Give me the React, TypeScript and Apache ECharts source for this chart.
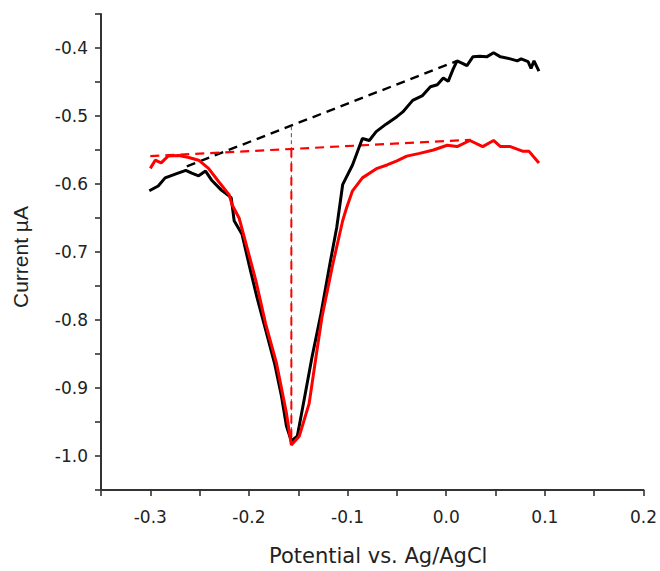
import React, { useEffect, useRef } from "react";
import * as echarts from "echarts";

// Black voltammogram (potential V, current µA)
const blackCurve: [number, number][] = [
  [-0.301, -0.61], [-0.292, -0.603], [-0.285, -0.591], [-0.274, -0.585], [-0.264, -0.58],
  [-0.258, -0.584], [-0.251, -0.588], [-0.244, -0.581], [-0.238, -0.594], [-0.228, -0.609],
  [-0.218, -0.62], [-0.215, -0.654], [-0.207, -0.674], [-0.2, -0.718], [-0.192, -0.766],
  [-0.183, -0.815], [-0.174, -0.864], [-0.167, -0.912], [-0.162, -0.956], [-0.157, -0.978],
  [-0.151, -0.971], [-0.144, -0.917], [-0.136, -0.854], [-0.127, -0.791], [-0.118, -0.718],
  [-0.111, -0.664], [-0.105, -0.601], [-0.095, -0.572], [-0.085, -0.533], [-0.078, -0.536],
  [-0.071, -0.523], [-0.061, -0.512], [-0.05, -0.501], [-0.044, -0.494], [-0.034, -0.477],
  [-0.024, -0.47], [-0.016, -0.457], [-0.009, -0.454], [-0.003, -0.444], [0.002, -0.449],
  [0.007, -0.431], [0.011, -0.419], [0.017, -0.423], [0.021, -0.426], [0.027, -0.413],
  [0.034, -0.412], [0.041, -0.413], [0.048, -0.407], [0.055, -0.413], [0.065, -0.416],
  [0.072, -0.419], [0.076, -0.416], [0.083, -0.42], [0.086, -0.43], [0.089, -0.419],
  [0.094, -0.434],
];

// Red voltammogram
const redCurve: [number, number][] = [
  [-0.3, -0.577], [-0.295, -0.565], [-0.289, -0.569], [-0.282, -0.559], [-0.271, -0.558],
  [-0.261, -0.561], [-0.251, -0.565], [-0.241, -0.577], [-0.231, -0.596], [-0.22, -0.616],
  [-0.217, -0.631], [-0.21, -0.65], [-0.2, -0.704], [-0.193, -0.742], [-0.183, -0.806],
  [-0.172, -0.864], [-0.162, -0.937], [-0.157, -0.984], [-0.149, -0.971], [-0.139, -0.923],
  [-0.132, -0.854], [-0.126, -0.796], [-0.115, -0.718], [-0.105, -0.654], [-0.101, -0.635],
  [-0.095, -0.61], [-0.085, -0.591], [-0.07, -0.577], [-0.06, -0.572], [-0.05, -0.566],
  [-0.04, -0.559], [-0.027, -0.555], [-0.013, -0.55], [0.001, -0.543], [0.011, -0.545],
  [0.024, -0.536], [0.037, -0.545], [0.048, -0.536], [0.055, -0.545], [0.065, -0.545],
  [0.078, -0.552], [0.084, -0.552], [0.094, -0.569],
];

// Baselines and peak markers
const blackBaseline: [number, number][] = [[-0.263, -0.574], [0.011, -0.419]];
const redBaseline: [number, number][] = [[-0.3, -0.559], [0.025, -0.535]];
const blackPeakLine: [number, number][] = [[-0.157, -0.515], [-0.157, -0.98]];
const redPeakLine: [number, number][] = [[-0.157, -0.549], [-0.157, -0.982]];

const xAxisName = "Potential vs. Ag/AgCl";
const yAxisName = "Current \u00b5A";

const WIDE_FONT = "'DejaVu Sans', sans-serif";
const NARROW_FONT = "'Liberation Sans', Arial, sans-serif";
const TEXT_COLOR = "#222";

const isTenth = (v: number) => Math.abs(Math.round(v * 10) - v * 10) < 1e-6;

export default function App() {
  const ref = useRef<HTMLDivElement>(null);
  useEffect(() => {
    if (!ref.current) return;
    const chart = echarts.init(ref.current, undefined, { renderer: "svg" });
    const axisCommon = {
      axisLine: { show: true, onZero: false, lineStyle: { color: "#333", width: 2 } },
      axisTick: { show: true, inside: false, length: 6, lineStyle: { color: "#333", width: 1.6 } },
      splitLine: { show: false },
    };
    chart.setOption({
      animation: false,
      backgroundColor: "#fff",
      grid: { left: 101, right: 16, top: 14, bottom: 77, containLabel: false },
      xAxis: {
        type: "value",
        min: -0.35,
        max: 0.2,
        interval: 0.05,
        name: xAxisName,
        nameLocation: "middle",
        nameGap: 55,
        nameTextStyle: {
          fontFamily: WIDE_FONT,
          fontSize: 21,
          color: TEXT_COLOR,
          padding: [0, 0, 0, 12],
        },
        ...axisCommon,
        axisLabel: {
          margin: 18,
          fontFamily: WIDE_FONT,
          fontSize: 17,
          color: TEXT_COLOR,
          formatter: (v: number) => (isTenth(v) ? v.toFixed(1) : ""),
        },
      },
      yAxis: {
        type: "value",
        min: -1.05,
        max: -0.35,
        interval: 0.05,
        name: yAxisName,
        nameLocation: "middle",
        nameGap: 70,
        nameTextStyle: {
          fontFamily: NARROW_FONT,
          fontSize: 21,
          color: TEXT_COLOR,
          padding: [0, 10, 0, 0],
        },
        ...axisCommon,
        axisLabel: {
          margin: 13,
          fontFamily: WIDE_FONT,
          fontSize: 17,
          color: TEXT_COLOR,
          formatter: (v: number) => (isTenth(v) ? v.toFixed(1) : ""),
        },
      },
      series: [
        {
          type: "line",
          data: blackBaseline,
          symbol: "none",
          lineStyle: { color: "#000", width: 2.4, type: [9, 6] },
          z: 2,
        },
        {
          type: "line",
          data: redBaseline,
          symbol: "none",
          lineStyle: { color: "#ff0000", width: 2.2, type: [9, 6] },
          z: 2,
        },
        {
          type: "line",
          data: blackPeakLine,
          symbol: "none",
          lineStyle: { color: "#555", width: 1, type: [4, 3] },
          z: 2,
        },
        {
          type: "line",
          data: redPeakLine,
          symbol: "none",
          lineStyle: { color: "#ff0000", width: 2, type: [8, 6] },
          z: 2,
        },
        {
          type: "line",
          data: blackCurve,
          symbol: "none",
          lineStyle: { color: "#000", width: 3 },
          z: 3,
        },
        {
          type: "line",
          data: redCurve,
          symbol: "none",
          lineStyle: { color: "#ff0000", width: 3 },
          z: 4,
        },
      ],
    });
    return () => chart.dispose();
  }, []);
  return (
    <div
      ref={ref}
      style={{ position: "fixed", left: 0, top: 0, width: 660, height: 571, background: "#fff" }}
    />
  );
}
